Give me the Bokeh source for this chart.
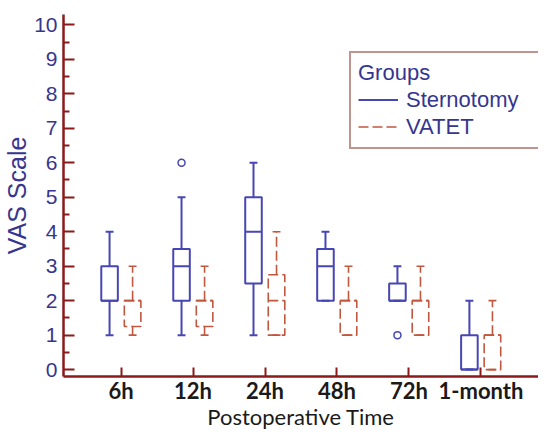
from bokeh.plotting import figure
from bokeh.models import (ColumnDataSource, FactorRange, Range1d, FixedTicker,
                          Legend, LegendItem)
from bokeh.transform import dodge
from bokeh.embed import file_html
from bokeh.resources import INLINE

# ---- data ----
categories = ["6h", "12h", "24h", "48h", "72h", "1-month"]

stern_low = [1, 1, 1, 2, 2, 0]
stern_q1 = [2, 2, 2.5, 2, 2, 0]
stern_med = [2, 3, 4, 3, 2, 0]
stern_q3 = [3, 3.5, 5, 3.5, 2.5, 1]
stern_high = [4, 5, 6, 4, 3, 2]
stern_out_cat = ["12h", "72h"]
stern_out_val = [6, 1]

vatet_low = [1, 1, 1, 1, 1, 0]
vatet_q1 = [1.25, 1.25, 1, 1, 1, 0]
vatet_med = [2, 2, 2, 2, 2, 1]
vatet_q3 = [2, 2, 2.75, 2, 2, 1]
vatet_high = [3, 3, 4, 3, 3, 2]

y_ticks = [0, 1, 2, 3, 4, 5, 6, 7, 8, 9, 10]
y_minor = [0.5, 1.5, 2.5, 3.5, 4.5, 5.5, 6.5, 7.5, 8.5, 9.5]

x_title = "Postoperative Time"
y_title = "VAS Scale"

# ---- styles ----
BLUE = "#4646b4"
BLUE_TXT = "#36368f"
RED = "#c2573f"
AXIS = "#8b1a1a"

p = figure(width=538, height=432, output_backend="svg", toolbar_location=None,
           x_range=FactorRange(*categories, range_padding=0.3,
                               range_padding_units="absolute"),
           y_range=Range1d(-0.2, 10.3))
p.min_border_left = 58
p.min_border_right = 0
p.min_border_top = 14
p.min_border_bottom = 0
p.outline_line_color = None
p.xgrid.grid_line_color = None
p.ygrid.grid_line_color = None
p.background_fill_color = "white"
p.border_fill_color = "white"

groups = [
    ("Sternotomy", -0.16, BLUE, "solid", 2,
     dict(cat=categories, low=stern_low, q1=stern_q1, med=stern_med,
          q3=stern_q3, high=stern_high)),
    ("VATET", 0.16, RED, "10 4", 1.6,
     dict(cat=categories, low=vatet_low, q1=vatet_q1, med=vatet_med,
          q3=vatet_q3, high=vatet_high)),
]

BOX_W = 0.23
CAP_W = 0.11
legend_items = []
for name, off, color, dash, lw, data in groups:
    src = ColumnDataSource(data)
    xr = p.x_range
    style = dict(line_color=color, line_dash=dash, line_width=lw)
    p.vbar(x=dodge("cat", off, range=xr), top="q3", bottom="q1", width=BOX_W,
           fill_color=None, source=src, **style)
    p.segment(x0=dodge("cat", off - BOX_W / 2, range=xr), y0="med",
              x1=dodge("cat", off + BOX_W / 2, range=xr), y1="med",
              source=src, **style)
    r = p.segment(x0=dodge("cat", off, range=xr), y0="q3",
                  x1=dodge("cat", off, range=xr), y1="high", source=src, **style)
    p.segment(x0=dodge("cat", off, range=xr), y0="low",
              x1=dodge("cat", off, range=xr), y1="q1", source=src, **style)
    for col in ("low", "high"):
        p.segment(x0=dodge("cat", off - CAP_W / 2, range=xr), y0=col,
                  x1=dodge("cat", off + CAP_W / 2, range=xr), y1=col,
                  source=src, line_color=color, line_width=lw)
    legend_items.append(LegendItem(label=name, renderers=[r]))

out_src = ColumnDataSource(dict(cat=stern_out_cat, val=stern_out_val))
p.scatter(x=dodge("cat", -0.16, range=p.x_range), y="val", source=out_src,
          marker="circle", size=7, fill_color=None, line_color=BLUE,
          line_width=1.5)

# ---- axes ----
yax = p.yaxis[0]
yax.ticker = FixedTicker(ticks=y_ticks, minor_ticks=y_minor)
yax.axis_label = y_title
yax.axis_label_text_font = "Liberation Sans"
yax.axis_label_text_font_size = "25px"
yax.axis_label_text_font_style = "normal"
yax.axis_label_text_color = BLUE_TXT
yax.axis_label_standoff = 0
yax.major_label_text_font = "Liberation Sans"
yax.major_label_text_font_size = "21px"
yax.major_label_text_color = BLUE_TXT
yax.major_label_standoff = 6
yax.axis_line_color = AXIS
yax.axis_line_width = 2.5
yax.major_tick_line_color = AXIS
yax.major_tick_line_width = 2
yax.major_tick_in = 11
yax.major_tick_out = 0
yax.minor_tick_line_color = AXIS
yax.minor_tick_line_width = 2
yax.minor_tick_in = 6
yax.minor_tick_out = 0

xax = p.xaxis[0]
xax.axis_label = x_title
xax.axis_label_text_font = "Lato"
xax.axis_label_text_font_size = "22px"
xax.axis_label_text_font_style = "normal"
xax.axis_label_text_color = "#1a1a1a"
xax.axis_label_standoff = -4
xax.major_label_text_font = "Lato"
xax.major_label_text_font_size = "22px"
xax.major_label_text_font_style = "bold"
xax.major_label_text_color = "#1a1a1a"
xax.major_label_standoff = 0
xax.axis_line_color = AXIS
xax.axis_line_width = 2.5
xax.major_tick_line_color = AXIS
xax.major_tick_line_width = 2
xax.major_tick_in = 9
xax.major_tick_out = 0
xax.minor_tick_line_color = None

legend = Legend(items=legend_items, location=(286, 227), title="Groups",
                title_text_font="Liberation Sans", title_text_font_size="22px",
                title_text_color=BLUE_TXT, title_text_font_style="normal",
                title_standoff=0,
                label_text_font="Liberation Sans", label_text_font_size="22px",
                label_text_color=BLUE_TXT,
                border_line_color="#7f2a20", border_line_width=2,
                background_fill_color="white", background_fill_alpha=1,
                padding=7, spacing=0, margin=0,
                glyph_width=40, glyph_height=27, label_height=27,
                label_width=127, label_standoff=8)
p.add_layout(legend)

open("out.html", "w").write(file_html(p, INLINE))
